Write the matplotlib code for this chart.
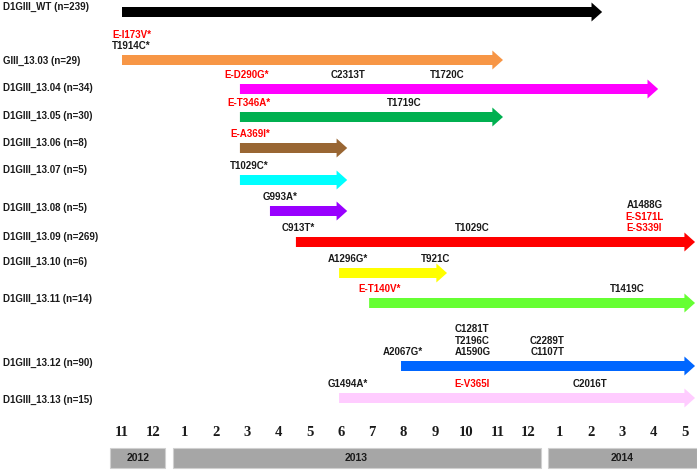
import matplotlib.pyplot as plt
from matplotlib.patches import Rectangle

# lineages, sample sizes and time span (month index, 0 = Nov 2012)
strains = ["D1GIII_WT", "GIII_13.03", "D1GIII_13.04", "D1GIII_13.05", "D1GIII_13.06",
           "D1GIII_13.07", "D1GIII_13.08", "D1GIII_13.09", "D1GIII_13.10",
           "D1GIII_13.11", "D1GIII_13.12", "D1GIII_13.13"]
counts = [239, 29, 34, 30, 8, 5, 5, 269, 6, 14, 90, 15]
starts = [0, 0, 3.77, 3.77, 3.77, 3.77, 4.73, 5.56, 6.94, 7.9, 8.92, 6.94]
ends = [15.35, 12.18, 17.14, 12.18, 7.2, 7.2, 7.2, 18.32, 10.39, 18.32, 18.32, 18.32]

# mutations per lineage: (month index, stacked labels)
mutations = [
    [],
    [(0.3, ["E-I173V*", "T1914C*"])],
    [(4.0, ["E-D290G*"]), (7.23, ["C2313T"]), (10.4, ["T1720C"])],
    [(4.07, ["E-T346A*"]), (9.03, ["T1719C"])],
    [(4.1, ["E-A369I*"])],
    [(4.07, ["T1029C*"])],
    [(5.05, ["G993A*"])],
    [(5.63, ["C913T*"]), (11.2, ["T1029C"]), (16.7, ["A1488G", "E-S171L", "E-S339I"])],
    [(7.23, ["A1296G*"]), (10.04, ["T921C"])],
    [(8.25, ["E-T140V*"]), (16.15, ["T1419C"])],
    [(8.98, ["A2067G*"]), (11.2, ["C1281T", "T2196C", "A1590G"]), (13.6, ["C2289T", "C1107T"])],
    [(7.23, ["G1494A*"]), (11.2, ["E-V365I"]), (14.96, ["C2016T"])],
]

month_labels = ["11", "12", "1", "2", "3", "4", "5", "6", "7", "8", "9", "10", "11", "12",
                "1", "2", "3", "4", "5"]
years = ["2012", "2013", "2014"]
year_first = [0, 2, 14]
year_last = [1, 13, 18]

# layout / style
colors = ["#000000", "#f79646", "#ff00ff", "#00b050", "#996633", "#00ffff", "#9900ff",
          "#ff0000", "#ffff00", "#66ff33", "#0066ff", "#ffccff"]
arrow_y = [12, 60, 89, 117, 148, 180, 211, 242, 273, 303, 366, 398]
label_y = [7, 61, 88, 116, 143, 170, 208, 237, 262, 299, 363, 400]
px = 31.28  # pixels per month

fig = plt.figure(figsize=(6.97, 4.70), dpi=100)
ax = fig.add_axes([0, 0, 1, 1])
ax.set_xlim(-122 / px, (697 - 122) / px)
ax.set_ylim(470, 0)
ax.axis("off")

sans = "Liberation Sans"
x0 = ax.get_xlim()[0]

for i in range(len(strains)):
    y = arrow_y[i]
    ax.arrow(starts[i], y, ends[i] - starts[i], 0, width=10, head_width=19,
             head_length=0.34, length_includes_head=True, fc=colors[i], ec="none")
    ax.text(x0 + 0.08, label_y[i], "%s (n=%d)" % (strains[i], counts[i]), fontsize=7,
            fontweight="bold", family=sans, ha="left", va="center", color="#1a1a1a")
    for mx, lines in mutations[i]:
        n = len(lines)
        for k, t in enumerate(lines):
            ty = y - 14 - 11.3 * (n - 1 - k)
            c = "#ff0000" if t.startswith("E-") else "#1a1a1a"
            ax.text(mx, ty, t, fontsize=7, fontweight="bold", family=sans,
                    ha="center", va="center", color=c)

for i, m in enumerate(month_labels):
    ax.text(i, 433, m, fontsize=10.5, fontweight="bold", family="Liberation Serif",
            ha="center", va="center", color="#1a1a1a")

for j in range(len(years)):
    a = year_first[j] - 0.38
    b = year_last[j] + 0.38
    ax.add_patch(Rectangle((a, 448), b - a, 20, fc="#a6a6a6", ec="#d0d0d0", lw=0.8))
    ax.text((a + b) / 2, 458, years[j], fontsize=7.5, fontweight="bold", family=sans,
            ha="center", va="center", color="#1a1a1a")

fig.savefig("out.png", dpi=100)
